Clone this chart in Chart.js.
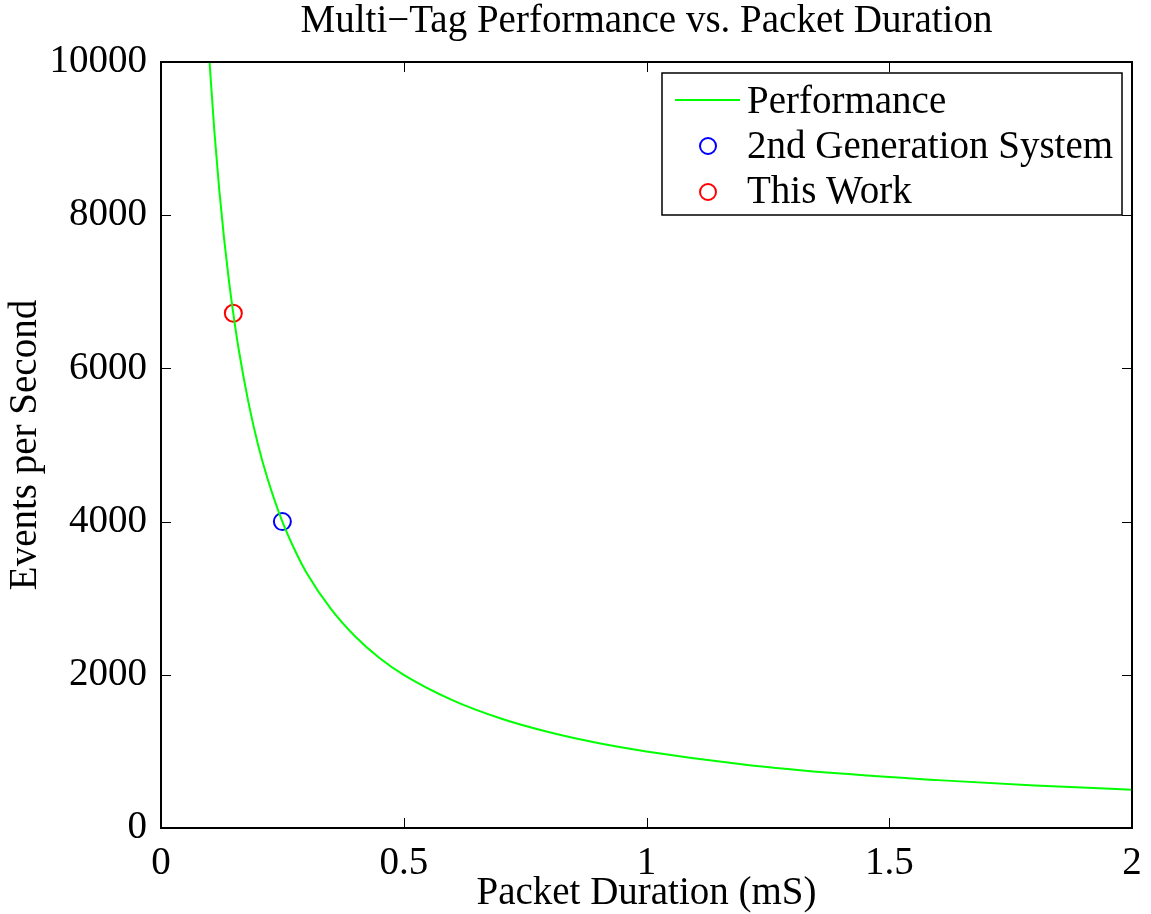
<!DOCTYPE html>
<html>
<head>
<meta charset="utf-8">
<title>Multi-Tag Performance vs. Packet Duration</title>
<script src="https://cdn.jsdelivr.net/npm/chart.js@4.4.1/dist/chart.umd.min.js"></script>
<style>
    html, body { margin: 0; padding: 0; background: #ffffff; }
    canvas { display: block; }
</style>
</head>
<body>
<canvas id="grafico" width="1151" height="914"></canvas>
<script>

// curve (packet duration in mS, events per second)
const duracao = [0.1, 0.11, 0.12, 0.13, 0.14, 0.15, 0.16, 0.18, 0.2, 0.22, 0.25, 0.28, 0.3, 0.35, 0.4, 0.45, 0.5, 0.6, 0.7, 0.8, 0.9, 1.0, 1.2, 1.4, 1.6, 1.8, 2.0];
const eventos = [10000, 9090, 8330, 7690, 7140, 6670, 6250, 5560, 5000, 4550, 4000, 3570, 3330, 2860, 2500, 2220, 2000, 1670, 1430, 1250, 1110, 1000, 830, 710, 625, 555, 500];

// the two marked systems
const segundaGeracao = [{x: 0.25, y: 4000}];
const esteTrabalho = [{x: 0.149, y: 6720}];

const ticksX = [0, 0.5, 1, 1.5, 2];
const ticksY = [0, 2000, 4000, 6000, 8000, 10000];

const titulo = 'Multi\u2212Tag Performance vs. Packet Duration';

const fonte = '"Liberation Serif", "Times New Roman", serif';
const tamanho = 39;

// MATLAB style box with inward tick marks, title centred over the axes
const moldura = {
    id: 'moldura',
    afterDatasetsDraw(chart) {
        const c = chart.ctx;
        const a = chart.chartArea;
        const sx = chart.scales.x;
        const sy = chart.scales.y;
        c.save();
        c.strokeStyle = '#000000';
        c.lineWidth = 1;
        ticksX.forEach(v => {
            const px = Math.round(sx.getPixelForValue(v)) + 0.5;
            c.beginPath();
            c.moveTo(px, a.bottom); c.lineTo(px, a.bottom - 10);
            c.moveTo(px, a.top); c.lineTo(px, a.top + 10);
            c.stroke();
        });
        ticksY.forEach(v => {
            const py = Math.round(sy.getPixelForValue(v)) + 0.5;
            c.beginPath();
            c.moveTo(a.left, py); c.lineTo(a.left + 10, py);
            c.moveTo(a.right, py); c.lineTo(a.right - 10, py);
            c.stroke();
        });
        c.lineWidth = 2;
        c.strokeRect(a.left, a.top, a.right - a.left, a.bottom - a.top);

        c.fillStyle = '#000000';
        c.font = tamanho + 'px ' + fonte;
        c.textAlign = 'center';
        c.textBaseline = 'alphabetic';
        c.fillText(titulo, (a.left + a.right) / 2, 32);
        c.restore();
    }
};

// legend box in the upper right corner
const legenda = {
    id: 'legenda',
    afterDraw(chart) {
        const c = chart.ctx;
        const a = chart.chartArea;
        const caixa = {left: a.right - 470, top: a.top + 11, width: 460, height: 142};
        c.save();
        c.fillStyle = '#ffffff';
        c.fillRect(caixa.left, caixa.top, caixa.width, caixa.height);
        c.strokeStyle = '#000000';
        c.lineWidth = 1.5;
        c.strokeRect(caixa.left, caixa.top, caixa.width, caixa.height);
        c.font = tamanho + 'px ' + fonte;
        c.textBaseline = 'alphabetic';
        chart.data.datasets.forEach((ds, i) => {
            const y = caixa.top + 27 + i * 46;
            c.strokeStyle = ds.borderColor;
            c.lineWidth = 2;
            c.beginPath();
            if (ds.showLine) {
                c.moveTo(caixa.left + 13, y);
                c.lineTo(caixa.left + 78, y);
            } else {
                c.arc(caixa.left + 46, y, 8, 0, Math.PI * 2);
            }
            c.stroke();
            c.fillStyle = '#000000';
            c.fillText(ds.label, caixa.left + 85, caixa.top + 40 + i * 45);
        });
        c.restore();
    }
};

const ctx = document.getElementById('grafico').getContext('2d');

new Chart(ctx, {
    type: 'scatter',
    data: {
        datasets: [{
            label: 'Performance',
            data: duracao.map((d, i) => ({x: d, y: eventos[i]})),
            showLine: true,
            borderColor: '#00ff00',
            borderWidth: 2,
            pointRadius: 0,
            cubicInterpolationMode: 'monotone'
        }, {
            label: '2nd Generation System',
            data: segundaGeracao,
            showLine: false,
            borderColor: '#0000ff',
            backgroundColor: 'rgba(0,0,0,0)',
            borderWidth: 2,
            pointRadius: 8.5
        }, {
            label: 'This Work',
            data: esteTrabalho,
            showLine: false,
            borderColor: '#ff0000',
            backgroundColor: 'rgba(0,0,0,0)',
            borderWidth: 2,
            pointRadius: 8.5
        }]
    },
    options: {
        responsive: false,
        animation: false,
        layout: {padding: {left: 0, right: 19, top: 62, bottom: 0}},
        plugins: {
            legend: {display: false},
            tooltip: {enabled: false},
            title: {display: false}
        },
        scales: {
            x: {
                type: 'linear',
                min: 0,
                max: 2,
                afterBuildTicks: s => { s.ticks = ticksX.map(v => ({value: v})); },
                afterFit: s => { s.height = 86; },
                grid: {display: false},
                border: {display: false},
                ticks: {
                    color: '#000000',
                    padding: 4,
                    font: {family: fonte, size: tamanho},
                    callback: v => String(v)
                },
                title: {
                    display: true,
                    text: 'Packet Duration (mS)',
                    color: '#000000',
                    font: {family: fonte, size: tamanho},
                    padding: {top: 0, bottom: -3}
                }
            },
            y: {
                min: 0,
                max: 10000,
                afterBuildTicks: s => { s.ticks = ticksY.map(v => ({value: v})); },
                afterFit: s => { s.width = 161; },
                grid: {display: false},
                border: {display: false},
                ticks: {
                    color: '#000000',
                    padding: 6,
                    font: {family: fonte, size: tamanho},
                    callback: v => String(v)
                },
                title: {
                    display: true,
                    text: 'Events per Second',
                    color: '#000000',
                    font: {family: fonte, size: tamanho},
                    padding: {top: 2, bottom: 0}
                }
            }
        }
    },
    plugins: [moldura, legenda]
});

</script>
</body>
</html>
